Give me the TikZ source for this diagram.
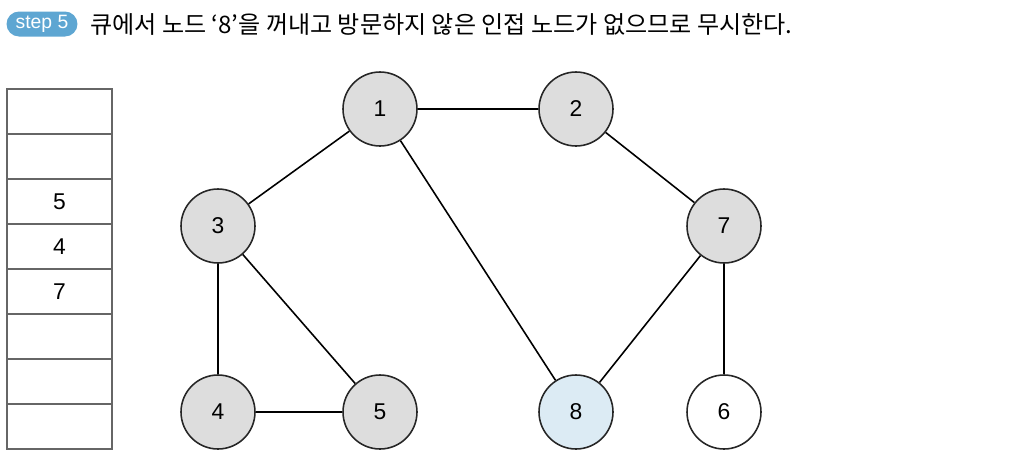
\documentclass[tikz,border=0pt]{standalone}
\usepackage{fontspec}
\setmainfont{Liberation Sans}
\newfontfamily\krfont{Noto Sans CJK KR}
\definecolor{visitgray}{HTML}{DDDDDD}
\definecolor{curblue}{HTML}{DCEBF4}
\definecolor{stepblue}{HTML}{5EA6D2}

\begin{document}
\begin{tikzpicture}[x=0.02cm, y=-0.02cm,
  % Graph node styles
  visited/.style={circle, draw=black!85, line width=0.9pt, fill=visitgray,
    minimum size=1.48cm, inner sep=0pt, font=\fontsize{13}{13}\selectfont},
  current/.style={visited, fill=curblue},
  unvisited/.style={visited, fill=white},
  % Connector style
  link/.style={draw=black, line width=0.9pt},
  % Queue cell style
  qcell/.style={rectangle, draw=black!60, line width=0.6pt, minimum width=2.1cm,
    minimum height=0.9cm, inner sep=0pt, font=\fontsize{13}{13}\selectfont},
  % Header styles
  badge/.style={rectangle, rounded corners=0.25cm, fill=stepblue, text=white,
    minimum width=1.42cm, minimum height=0.5cm, inner sep=0pt,
    font=\fontsize{11}{11}\selectfont},
  title/.style={anchor=west, inner sep=0pt, font=\krfont\fontsize{13.7}{13.7}\selectfont},
]
\useasboundingbox (0,0) rectangle (1014,457);

% Header
\node[badge] (step) at (42,24) {step 5};
\node[title] (head) at (90,24)
  {큐에서 노드 ‘8’을 꺼내고 방문하지 않은 인접 노드가 없으므로 무시한다.};

% --- Queue ---
\foreach \i/\val in {0/,1/,2/5,3/4,4/7,5/,6/,7/} {
  \node[qcell] (q\i) at (59.5,111.5+45*\i) {\val};
}

% --- Graph nodes ---
\node[visited] (n1) at (380,109) {1};
\node[visited] (n2) at (576,109) {2};
\node[visited] (n3) at (218,226) {3};
\node[visited] (n7) at (724,226) {7};
\node[visited] (n4) at (218,412) {4};
\node[visited] (n5) at (380,412) {5};
\node[current] (n8) at (576,412) {8};
\node[unvisited] (n6) at (724,412) {6};

% --- Edges ---
\draw[link] (n1) -- (n2);
\draw[link] (n1) -- (n3);
\draw[link] (n1) -- (n8);
\draw[link] (n2) -- (n7);
\draw[link] (n3) -- (n4);
\draw[link] (n3) -- (n5);
\draw[link] (n4) -- (n5);
\draw[link] (n7) -- (n8);
\draw[link] (n7) -- (n6);

\end{tikzpicture}
\end{document}
